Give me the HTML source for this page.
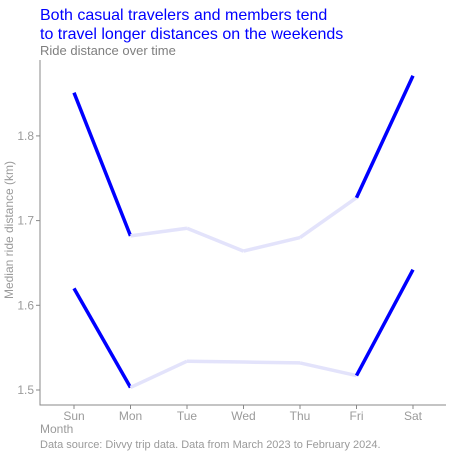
<!DOCTYPE html>
<html><head><meta charset="utf-8"><style>
body{margin:0;background:#fff;font-family:"Liberation Sans",sans-serif}
</style></head><body>
<svg width="465" height="458" xmlns="http://www.w3.org/2000/svg" font-family="Liberation Sans, sans-serif">
<text x="40" y="20" font-size="16" fill="#0000ff">Both casual travelers and members tend</text>
<text x="40" y="39" font-size="16" fill="#0000ff">to travel longer distances on the weekends</text>
<text x="40" y="55" font-size="13" fill="#7f7f7f">Ride distance over time</text>
<g id="plot"></g>
<text x="40" y="433" font-size="12" fill="#9a9a9a">Month</text>
<text x="40" y="448" font-size="11" fill="#9a9a9a">Data source: Divvy trip data. Data from March 2023 to February 2024.</text>
<text transform="translate(13,230) rotate(-90)" text-anchor="middle" font-size="12" fill="#9a9a9a">Median ride distance (km)</text>
</svg>
<script>
const days=["Sun","Mon","Tue","Wed","Thu","Fri","Sat"];
const casual=[1.851,1.682,1.691,1.664,1.680,1.727,1.871];
const member=[1.620,1.503,1.534,1.533,1.532,1.517,1.642];
const yTicks=[1.5,1.6,1.7,1.8];
const NS="http://www.w3.org/2000/svg";
const g=document.getElementById('plot');
const xs=i=>74+i*56.5;
const ys=v=>390-(v-1.5)*847;
function mk(t,a){const e=document.createElementNS(NS,t);for(const k in a)e.setAttribute(k,a[k]);g.appendChild(e);return e;}
let ax=mk('path',{d:'M40,60V405H446',stroke:'#888',fill:'none','stroke-width':1});


yTicks.forEach(v=>{
 let t=mk('line',{x1:36,x2:40,y1:ys(v),y2:ys(v),stroke:'#888'});
 
 
 let l=mk('text',{x:34,y:ys(v)+4,'text-anchor':'end','font-size':12,fill:'#9a9a9a'});l.textContent=v.toFixed(1);
 
 
});
days.forEach((d,i)=>{
 let t=mk('line',{x1:xs(i),x2:xs(i),y1:405,y2:409,stroke:'#888'});
 
 
 let l=mk('text',{x:xs(i),y:420,'text-anchor':'middle','font-size':12,fill:'#9a9a9a'});l.textContent=d;
 
 
});
[casual,member].forEach((s,si)=>{
 for(let i=0;i<s.length-1;i++){
  const wk=(i===0||i===s.length-2);
  let ln=mk('line',{x1:xs(i),y1:ys(s[i]),x2:xs(i+1),y2:ys(s[i+1]),stroke:wk?'#0000ff':'#e3e3fb','stroke-width':wk?3.5:3.5,'stroke-linecap':'butt'});
  
  
 }
});
</script>
</body></html>
